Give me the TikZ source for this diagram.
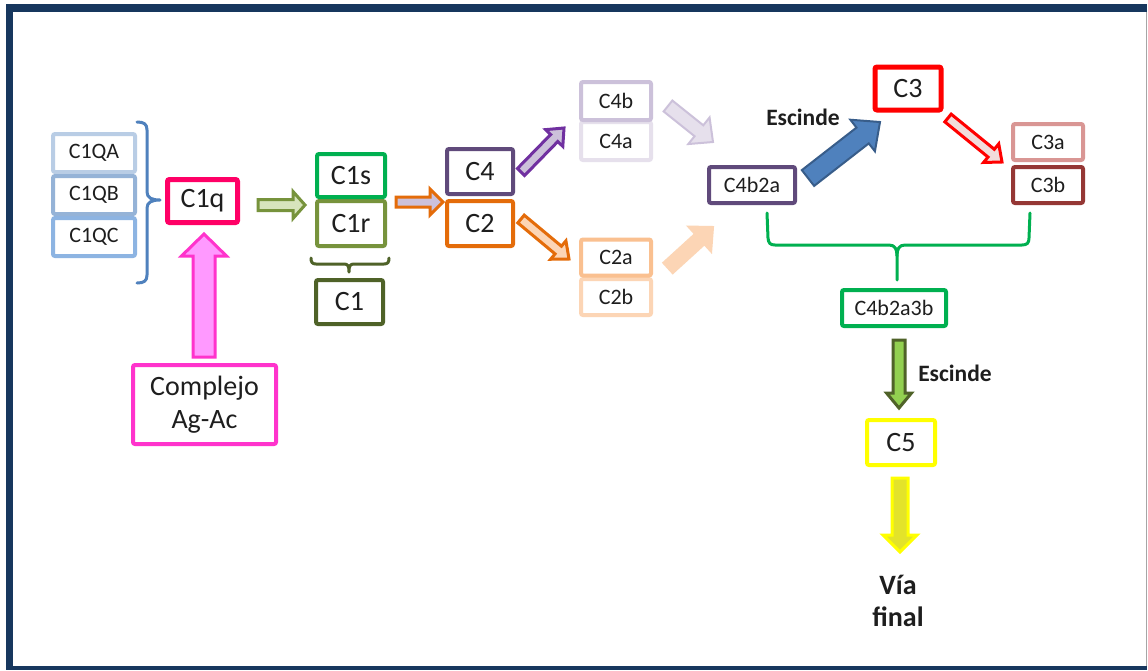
\documentclass[tikz,border=0pt]{standalone}
\usepackage{fontspec}
\setmainfont{Carlito}
\usetikzlibrary{calc}
\definecolor{navy}{HTML}{17375E}
\definecolor{txt}{HTML}{1E1E1E}
\definecolor{cqa}{HTML}{B9CDE5}
\definecolor{cqb}{HTML}{95B3D7}
\definecolor{cqc}{HTML}{8DB4E2}
\definecolor{bluebr}{HTML}{4F81BD}
\definecolor{c1qcol}{HTML}{FF0066}
\definecolor{pinkb}{HTML}{FF33CC}
\definecolor{pinkf}{HTML}{FF99FF}
\definecolor{grn}{HTML}{00B050}
\definecolor{olive}{HTML}{77933C}
\definecolor{olivef}{HTML}{D7E4BD}
\definecolor{dolive}{HTML}{4F6228}
\definecolor{purp}{HTML}{604A7B}
\definecolor{vio}{HTML}{7030A0}
\definecolor{lav}{HTML}{CCC1DA}
\definecolor{lav2}{HTML}{E6E0EC}
\definecolor{orng}{HTML}{E46C0A}
\definecolor{lorng}{HTML}{FAC090}
\definecolor{llorng}{HTML}{FCD5B5}
\definecolor{redc}{HTML}{FF0000}
\definecolor{pinkl}{HTML}{F2DCDB}
\definecolor{rosy}{HTML}{D99694}
\definecolor{dred}{HTML}{953735}
\definecolor{bluef}{HTML}{4F81BD}
\definecolor{blueb}{HTML}{385D8A}
\definecolor{lgreen}{HTML}{92D050}
\definecolor{yel}{HTML}{FFFF00}
\definecolor{yelf}{HTML}{E3E32A}
\newcommand\blockarrow[6]{% style, from, to, shaft half width, head half width, head length
  \coordinate (hb) at ($(#3)!#6!(#2)$);
  \draw[#1] ($(#2)!#4!90:(#3)$) -- ($(hb)!#4!-90:(#2)$) -- ($(hb)!#5!-90:(#2)$) -- (#3)
    -- ($(hb)!#5!90:(#2)$) -- ($(hb)!#4!90:(#2)$) -- ($(#2)!#4!-90:(#3)$) -- cycle;
}
\tikzset{
  box/.style={draw, line width=4pt, rounded corners=2pt, fill=white, inner sep=0pt,
    font=\fontsize{22}{26}\selectfont, text=txt},
  big/.style={box, font=\fontsize{28}{33}\selectfont},
  lbl/.style={font=\fontsize{23.5}{28}\selectfont\bfseries, text=txt, inner sep=0pt},
  brace/.style={line width=3pt, line cap=round, line join=round},
  arr/.style={line width=3pt, line join=miter},
}
\begin{document}
\begin{tikzpicture}[x=1pt,y=-1pt]
\useasboundingbox (0,0) rectangle (1148,670);
\fill[white] (0,0) rectangle (1148,670);
\fill[navy] (6,4) rectangle (1147,670);
\fill[white] (13,12) rectangle (1146,666);
\draw[gray!70, line width=1pt] (1146.5,12) -- (1146.5,666);

% left stack
\node[box, draw=cqa, minimum width=82pt, minimum height=38pt] (c1qa) at (94,153) {C1QA};
\node[box, draw=cqc, minimum width=82pt, minimum height=38pt] (c1qc) at (94,237) {C1QC};
\node[box, draw=cqb, minimum width=82pt, minimum height=38pt] (c1qb) at (94,195) {C1QB};
\coordinate (bt) at (137,122);
\coordinate (bb) at (137,283);
\coordinate (bm) at (160,200);
\draw[brace, draw=bluebr] (bt) .. controls (144,122) and (147,124) .. (147,130) -- (147,192)
  .. controls (147,198) and (152,200) .. (bm) .. controls (152,200) and (147,202) .. (147,208)
  -- (147,275) .. controls (147,281) and (144,283) .. (bb);

\node[big, draw=c1qcol, line width=5pt, minimum width=70pt, minimum height=43pt] (c1q) at (202.5,201) {C1q};

% complejo
\node[big, draw=pinkb, minimum width=143pt, minimum height=79pt, align=center] (comp) at (204.5,404.5) {Complejo\\Ag-Ac};
\coordinate (pa1) at (204,357);
\coordinate (pa2) at (204,234);
\blockarrow{arr, draw=pinkb, fill=pinkf}{pa1}{pa2}{11pt}{22.5pt}{22pt}

% green arrow
\coordinate (ga1) at (258,205);
\coordinate (ga2) at (305,205);
\blockarrow{arr, draw=olive, fill=olivef}{ga1}{ga2}{5.5pt}{13.5pt}{12pt}

\node[big, draw=olive, minimum width=68pt, minimum height=45pt] (c1r) at (351,223.5) {C1r};
\node[big, draw=grn, minimum width=68pt, minimum height=43pt] (c1s) at (351,175.5) {C1s};
\node[big, draw=dolive, minimum width=67pt, minimum height=44pt] (c1) at (349.5,302) {C1};
\draw[brace, draw=dolive] (311,258) .. controls (311,262) and (312,264) .. (316,264) -- (344,264)
  .. controls (348,264) and (349,266) .. (349,272) .. controls (349,266) and (350,264) .. (354,264)
  -- (384,264) .. controls (388,264) and (389,262) .. (389,258);

% orange arrow
\coordinate (oa1) at (396,202);
\coordinate (oa2) at (443,202);
\blockarrow{arr, draw=orng, fill=lav}{oa1}{oa2}{5pt}{13pt}{13pt}

\node[big, draw=purp, minimum width=66pt, minimum height=45pt] (c4) at (480,171.5) {C4};
\node[big, draw=orng, minimum width=66pt, minimum height=45pt] (c2) at (480,223.5) {C2};

\coordinate (va1) at (521,172);
\coordinate (va2) at (564,128);
\blockarrow{arr, draw=vio, fill=lav}{va1}{va2}{5pt}{12pt}{14pt}
\coordinate (da1) at (521,219);
\coordinate (da2) at (569,259);
\blockarrow{arr, draw=orng, fill=llorng}{da1}{da2}{5pt}{12pt}{14pt}

\node[box, draw=lav2, minimum width=70pt, minimum height=38pt] (c4a) at (616,141) {C4a};
\node[box, draw=lav, minimum width=70pt, minimum height=38pt] (c4b) at (616,101) {C4b};
\node[box, draw=llorng, minimum width=70pt, minimum height=36pt] (c2b) at (616,297) {C2b};
\node[box, draw=lorng, minimum width=70pt, minimum height=36pt] (c2a) at (616,257.5) {C2a};

\coordinate (la1) at (668,106);
\coordinate (la2) at (713,142);
\blockarrow{line width=2pt, draw=lav, fill=lav2}{la1}{la2}{7pt}{17pt}{18pt}
\coordinate (lo1) at (668,268);
\coordinate (lo2) at (713,227);
\blockarrow{line width=2pt, draw=llorng, fill=llorng}{lo1}{lo2}{7pt}{17pt}{18pt}

\node[box, draw=purp, minimum width=86pt, minimum height=36pt] (c4b2a) at (752,185) {C4b2a};

\coordinate (ba1) at (808,178);
\coordinate (ba2) at (880,122);
\blockarrow{line width=2pt, draw=blueb, fill=bluef}{ba1}{ba2}{10pt}{20pt}{22pt}
\node[lbl] (esc1) at (803,117) {Escinde};

\node[big, draw=redc, line width=5pt, minimum width=66pt, minimum height=43pt] (c3) at (908,88.5) {C3};
\coordinate (ra1) at (948,118);
\coordinate (ra2) at (1002,162);
\blockarrow{arr, draw=redc, fill=pinkl}{ra1}{ra2}{5pt}{12pt}{14pt}

\node[box, draw=rosy, minimum width=70pt, minimum height=36pt] (c3a) at (1048,142) {C3a};
\node[box, draw=dred, minimum width=70pt, minimum height=36pt] (c3b) at (1048,185) {C3b};

\draw[brace, draw=grn] (767,213) -- (768,238) .. controls (768.5,243) and (770,245) .. (775,245) -- (889,245)
  .. controls (895,245) and (897,249) .. (897,256) -- (897,280);
\draw[brace, draw=grn] (897,256) .. controls (897,249) and (899,245) .. (905,245) -- (1022,245)
  .. controls (1027,245) and (1029,243) .. (1029,238) -- (1030,213);

\node[box, draw=grn, minimum width=104pt, minimum height=36pt] (c4b2a3b) at (894,308) {C4b2a3b};

\coordinate (gd1) at (899,340);
\coordinate (gd2) at (899,408);
\blockarrow{arr, draw=dolive, fill=lgreen}{gd1}{gd2}{6pt}{12.5pt}{15pt}
\node[lbl] (esc2) at (955,373) {Escinde};

\node[big, draw=yel, minimum width=68pt, minimum height=45pt] (c5) at (901,442.5) {C5};
\coordinate (yd1) at (900,478);
\coordinate (yd2) at (900,552);
\blockarrow{arr, draw=yel, fill=yelf}{yd1}{yd2}{8pt}{17pt}{17pt}

\node[lbl, font=\fontsize{28}{33}\selectfont\bfseries] (via) at (898,585) {Vía};
\node[lbl, font=\fontsize{28}{33}\selectfont\bfseries] (final) at (898,617) {final};
\end{tikzpicture}
\end{document}
